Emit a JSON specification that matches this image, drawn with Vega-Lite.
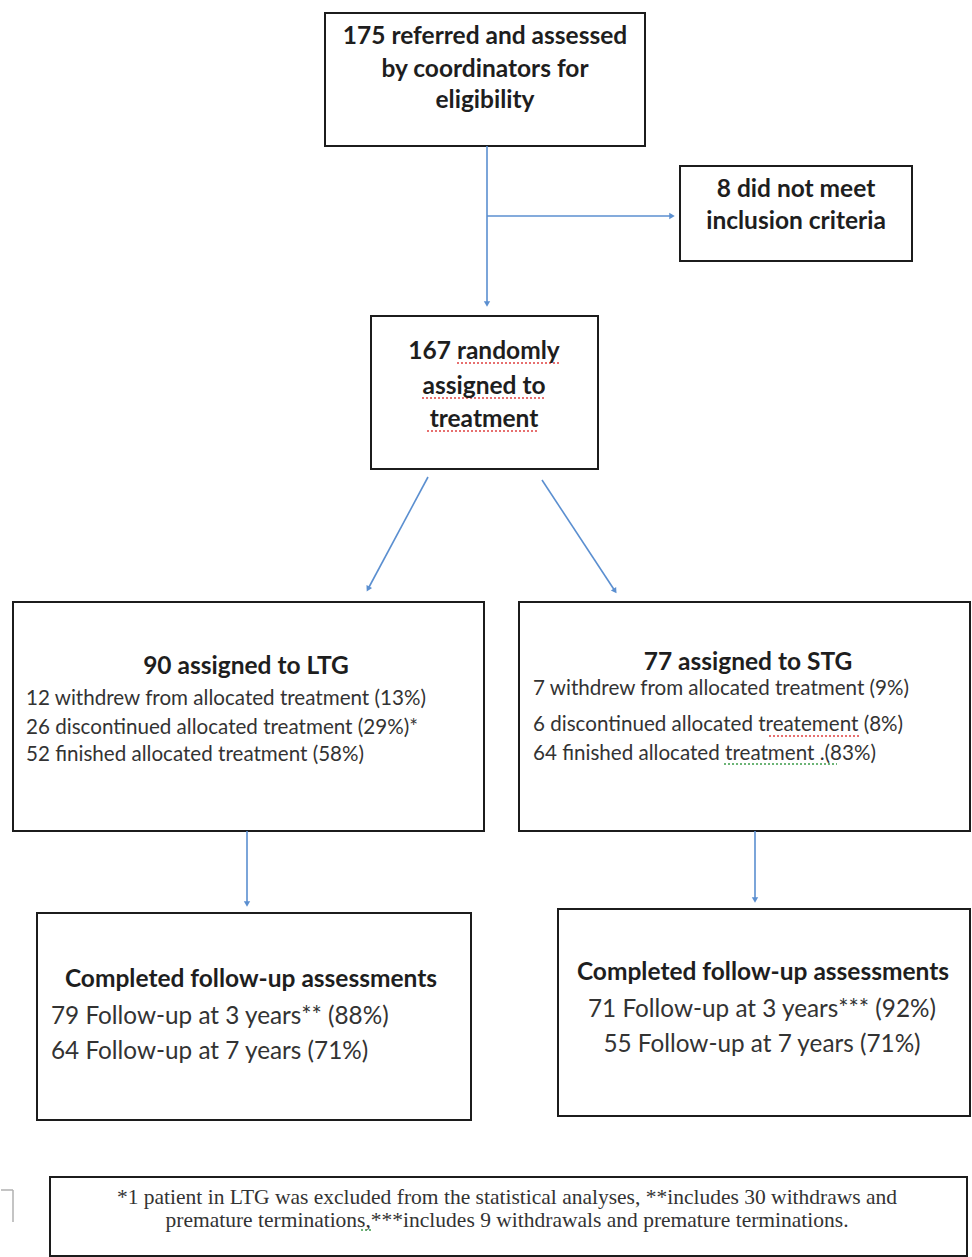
{
  "$schema": "https://vega.github.io/schema/vega-lite/v6.json",
  "width": 972,
  "height": 1257,
  "autosize": {"type": "fit", "contains": "padding"},
  "padding": 0,
  "background": "white",
  "datasets": {
    "boxes": [
      {"id": "screened", "x": 325, "x2": 645, "y": 13, "y2": 146},
      {"id": "excluded", "x": 680, "x2": 912, "y": 166, "y2": 261},
      {"id": "randomised", "x": 371, "x2": 598, "y": 316, "y2": 469},
      {"id": "ltg", "x": 13, "x2": 484, "y": 602, "y2": 831},
      {"id": "stg", "x": 519, "x2": 970, "y": 602, "y2": 831},
      {"id": "ltg_followup", "x": 37, "x2": 471, "y": 913, "y2": 1120},
      {"id": "stg_followup", "x": 558, "x2": 970, "y": 909, "y2": 1116},
      {"id": "note", "x": 50, "x2": 967, "y": 1177, "y2": 1256}
    ],
    "arrows": [
      {"dir": "down", "x": 487, "y": 146, "xe": 487, "ye": 304},
      {"dir": "right", "x": 487, "y": 216, "xe": 672, "ye": 216},
      {"dir": "downleft", "x": 428, "y": 477, "xe": 368, "ye": 589},
      {"dir": "downright", "x": 542, "y": 480, "xe": 615, "ye": 591},
      {"dir": "down", "x": 247, "y": 831, "xe": 247, "ye": 904},
      {"dir": "down", "x": 755, "y": 831, "xe": 755, "ye": 900}
    ],
    "bracket": [
      {"x": 1, "y": 1190, "xe": 13, "ye": 1190},
      {"x": 13, "y": 1190, "xe": 13, "ye": 1222}
    ],
    "spelling": [
      {"word": "randomly", "x": 457, "xe": 560, "y": 363},
      {"word": "assigned to", "x": 422, "xe": 545, "y": 398},
      {"word": "treatment", "x": 427, "xe": 538, "y": 431},
      {"word": "treatement", "x": 769, "xe": 860, "y": 736}
    ],
    "grammar": [
      {"word": "treatment .", "x": 724, "xe": 837, "y": 764},
      {"word": ",", "x": 361, "xe": 371, "y": 1230}
    ],
    "headings": [
      {"x": 485, "y": 37, "text": "175 referred and assessed"},
      {"x": 485, "y": 70, "text": "by coordinators for"},
      {"x": 485, "y": 101, "text": "eligibility"},
      {"x": 796, "y": 190, "text": "8 did not meet"},
      {"x": 796, "y": 222, "text": "inclusion criteria"},
      {"x": 484, "y": 352, "text": "167 randomly"},
      {"x": 484, "y": 387, "text": "assigned to"},
      {"x": 484, "y": 420, "text": "treatment"},
      {"x": 246, "y": 667, "text": "90 assigned to LTG"},
      {"x": 748, "y": 663, "text": "77 assigned to STG"},
      {"x": 251, "y": 980, "text": "Completed follow-up assessments"},
      {"x": 763, "y": 973, "text": "Completed follow-up assessments"}
    ],
    "allocation": [
      {"x": 26, "y": 699, "text": "12 withdrew  from allocated treatment (13%)"},
      {"x": 26, "y": 728, "text": "26 discontinued  allocated  treatment (29%)*"},
      {"x": 26, "y": 755, "text": "52 finished  allocated  treatment (58%)"},
      {"x": 533, "y": 689, "text": "7 withdrew  from allocated treatment (9%)"},
      {"x": 533, "y": 725, "text": "6 discontinued  allocated  treatement (8%)"},
      {"x": 533, "y": 754, "text": "64 finished  allocated  treatment .(83%)"}
    ],
    "followup_left": [
      {"x": 51, "y": 1017, "text": "79 Follow-up at 3 years** (88%)"},
      {"x": 51, "y": 1052, "text": "64 Follow-up at 7 years (71%)"}
    ],
    "followup_center": [
      {"x": 762, "y": 1010, "text": "71 Follow-up at 3 years*** (92%)"},
      {"x": 762, "y": 1045, "text": "55 Follow-up at 7 years (71%)"}
    ],
    "footnote": [
      {"x": 507, "y": 1198, "text": "*1 patient in LTG was excluded from the statistical analyses, **includes 30 withdraws and"},
      {"x": 507, "y": 1221, "text": "premature terminations,***includes 9 withdrawals and premature terminations."}
    ]
  },
  "encoding": {
    "x": {"field": "x", "type": "quantitative", "scale": {"domain": [0, 972], "nice": false, "zero": false}, "axis": null},
    "y": {"field": "y", "type": "quantitative", "scale": {"domain": [0, 1257], "reverse": true, "nice": false, "zero": false}, "axis": null}
  },
  "layer": [
    {
      "data": {"name": "boxes"},
      "mark": {"type": "rect", "fill": "white", "stroke": "#1c1c1c", "strokeWidth": 2},
      "encoding": {"x2": {"field": "x2"}, "y2": {"field": "y2"}}
    },
    {
      "data": {"name": "bracket"},
      "mark": {"type": "rule", "color": "#b0b0b0", "strokeWidth": 1.5},
      "encoding": {"x2": {"field": "xe"}, "y2": {"field": "ye"}}
    },
    {
      "data": {"name": "spelling"},
      "mark": {"type": "rule", "color": "#e04040", "strokeWidth": 1.5, "strokeDash": [2, 2]},
      "encoding": {"x2": {"field": "xe"}, "y2": {"field": "y"}}
    },
    {
      "data": {"name": "grammar"},
      "mark": {"type": "rule", "color": "#3c9c4a", "strokeWidth": 1.5, "strokeDash": [2, 2]},
      "encoding": {"x2": {"field": "xe"}, "y2": {"field": "y"}}
    },
    {
      "data": {"name": "arrows"},
      "mark": {"type": "rule", "color": "#5b8fd0", "strokeWidth": 1.6},
      "encoding": {"x2": {"field": "xe"}, "y2": {"field": "ye"}}
    },
    {
      "data": {"name": "arrows"},
      "transform": [{"filter": {"field": "dir", "equal": "down"}}],
      "mark": {"type": "point", "shape": "triangle-down", "filled": true, "size": 40, "color": "#5b8fd0", "opacity": 1},
      "encoding": {"x": {"field": "xe", "type": "quantitative"}, "y": {"field": "ye", "type": "quantitative"}}
    },
    {
      "data": {"name": "arrows"},
      "transform": [{"filter": {"field": "dir", "equal": "right"}}],
      "mark": {"type": "point", "shape": "triangle-right", "filled": true, "size": 40, "color": "#5b8fd0", "opacity": 1},
      "encoding": {"x": {"field": "xe", "type": "quantitative"}, "y": {"field": "ye", "type": "quantitative"}}
    },
    {
      "data": {"name": "arrows"},
      "transform": [{"filter": {"field": "dir", "equal": "downleft"}}],
      "mark": {"type": "point", "shape": "triangle-down", "angle": 28, "filled": true, "size": 40, "color": "#5b8fd0", "opacity": 1},
      "encoding": {"x": {"field": "xe", "type": "quantitative"}, "y": {"field": "ye", "type": "quantitative"}}
    },
    {
      "data": {"name": "arrows"},
      "transform": [{"filter": {"field": "dir", "equal": "downright"}}],
      "mark": {"type": "point", "shape": "triangle-down", "angle": 327, "filled": true, "size": 40, "color": "#5b8fd0", "opacity": 1},
      "encoding": {"x": {"field": "xe", "type": "quantitative"}, "y": {"field": "ye", "type": "quantitative"}}
    },
    {
      "data": {"name": "headings"},
      "mark": {"type": "text", "font": "Lato", "fontWeight": "bold", "fontSize": 24.5, "align": "center", "baseline": "middle", "color": "#1e1e1e"},
      "encoding": {"text": {"field": "text"}}
    },
    {
      "data": {"name": "allocation"},
      "mark": {"type": "text", "font": "Lato", "fontSize": 20.6, "align": "left", "baseline": "middle", "color": "#333333"},
      "encoding": {"text": {"field": "text"}}
    },
    {
      "data": {"name": "followup_left"},
      "mark": {"type": "text", "font": "Lato", "fontSize": 24.3, "align": "left", "baseline": "middle", "color": "#333333"},
      "encoding": {"text": {"field": "text"}}
    },
    {
      "data": {"name": "followup_center"},
      "mark": {"type": "text", "font": "Lato", "fontSize": 24.3, "align": "center", "baseline": "middle", "color": "#333333"},
      "encoding": {"text": {"field": "text"}}
    },
    {
      "data": {"name": "footnote"},
      "mark": {"type": "text", "font": "Liberation Serif", "fontSize": 21.5, "align": "center", "baseline": "middle", "color": "#333333"},
      "encoding": {"text": {"field": "text"}}
    }
  ],
  "config": {"view": {"stroke": null}}
}
